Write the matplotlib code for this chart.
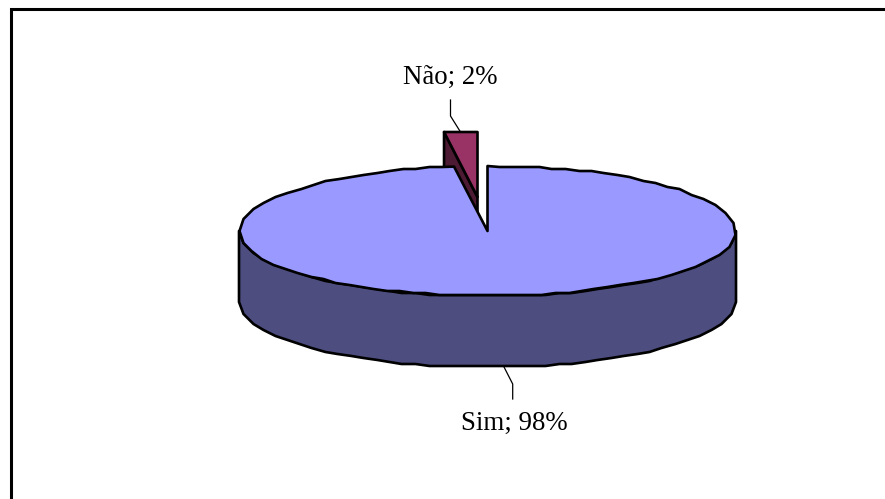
import numpy as np
import matplotlib
matplotlib.use("Agg")
import matplotlib.pyplot as plt
from matplotlib.patches import Polygon

categories = ["Sim", "Não"]
values = [97.85, 2.15]
colors_top = ["#9999FF", "#993366"]
colors_side = ["#4D4D80", "#4D1A33"]

plt.rcParams['font.family'] = ['Liberation Serif', 'DejaVu Serif']

fig = plt.figure(figsize=(8.85, 4.99), dpi=100, facecolor="white")
ax = fig.add_axes([0, 0, 1, 1])
ax.set_xlim(0, 885)
ax.set_ylim(499, 0)
ax.axis("off")

# frame, open towards the right and bottom of the picture
ax.plot([10.8, 10.8, 890], [505, 9.0, 9.0], color="black", lw=2.2, solid_joinstyle="miter")

cx, cy, rx, ry, depth = 487.5, 231.0, 248.5, 65.0, 71.0
spacing = 13.0      # pixels between outline vertices
grid = 2.0          # coarse rounding of the outline vertices
edge = dict(edgecolor="black", linewidth=1.9, joinstyle="round")


def arc(start, end):
    """Coarse outline between two clockwise angles measured from 12 o'clock."""
    fine = np.radians(np.linspace(start, end, 2000))
    x = np.sin(fine) * rx
    y = -np.cos(fine) * ry
    s = np.r_[0, np.cumsum(np.hypot(np.diff(x), np.diff(y)))]
    n = max(int(round(s[-1] / spacing)), 1)
    idx = np.searchsorted(s, np.linspace(0, s[-1], n + 1))
    idx[-1] = len(s) - 1
    px, py = x[idx], y[idx]
    qx = np.round(px / grid) * grid
    qy = np.round(py / grid) * grid
    qx[[0, -1]] = px[[0, -1]]
    qy[[0, -1]] = py[[0, -1]]
    return np.c_[qx + cx, qy + cy]


total = sum(values)
sweep_sim = values[0] / total * 360.0

# exploded slice, drawn first so the large slice hides what lies behind it
ox, oy = -10.0, -34.0
p_top_left = arc(sweep_sim, 360.0)
apex = np.array([cx + ox, cy + oy])
rim = p_top_left + [ox, oy]
rim[:, 1] = rim[:, 1].min()
down = np.array([0, depth])
ax.add_patch(Polygon(np.vstack([rim[0], apex, apex + down, rim[0] + down]),
                     closed=True, facecolor=colors_side[1], zorder=2, **edge))
ax.add_patch(Polygon(np.vstack([apex, rim]), closed=True,
                     facecolor=colors_top[1], zorder=3, **edge))

# large slice: side wall of the front half, then the top face
front = arc(90.0, 270.0)
ax.add_patch(Polygon(np.vstack([front, (front + down)[::-1]]), closed=True,
                     facecolor=colors_side[0], zorder=4, **edge))
top = arc(0.0, sweep_sim)
ax.add_patch(Polygon(np.vstack([[cx, cy], top]), closed=True,
                     facecolor=colors_top[0], zorder=5, **edge))

# leader lines and labels
ax.plot([450.5, 450.5, 460.5], [100, 116, 132], color="black", lw=0.9, zorder=1)
ax.plot([512.7, 512.7, 503.5], [399, 384, 366], color="black", lw=0.9, zorder=1)
ax.text(450, 77, f"{categories[1]}; {values[1]:.0f}%", ha="center", va="center",
        fontsize=19.4, color="black")
ax.text(514, 423, f"{categories[0]}; {values[0]:.0f}%", ha="center", va="center",
        fontsize=19.4, color="black")

fig.savefig("out.png", dpi=100, facecolor="white")
